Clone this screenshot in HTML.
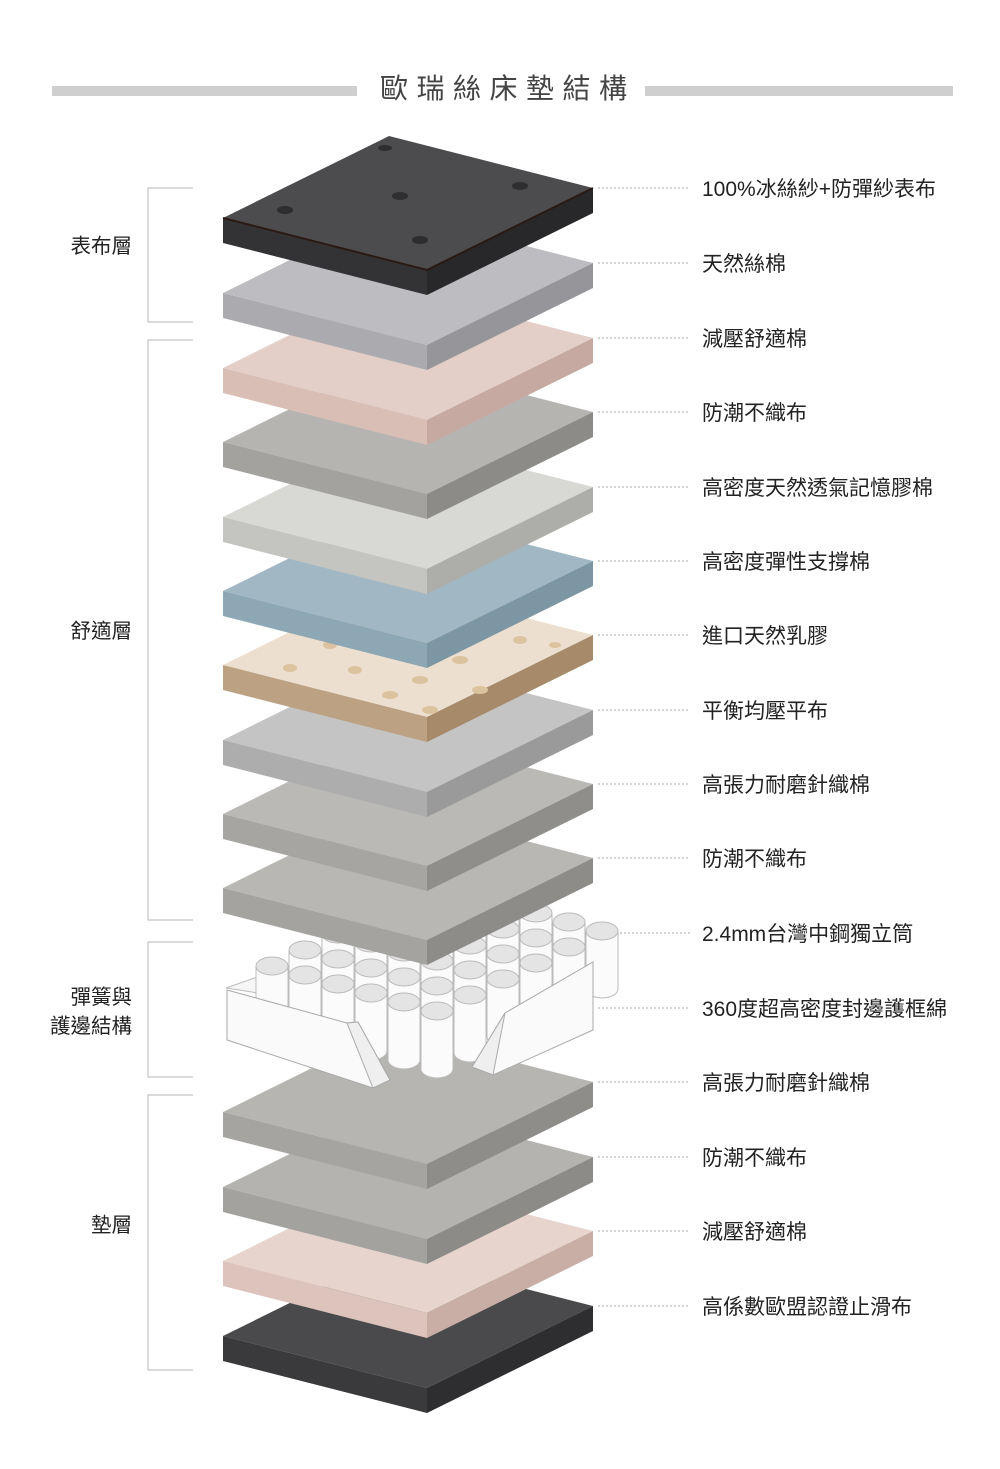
<!DOCTYPE html>
<html><head><meta charset="utf-8"><style>
html,body{margin:0;padding:0;background:#fff;}
body{width:1000px;height:1469px;overflow:hidden;position:relative;font-family:"Liberation Sans","Noto Sans CJK TC",sans-serif;}
.t{position:absolute;left:702px;font-size:21px;color:#222;line-height:24px;white-space:nowrap;}
.g{position:absolute;right:868px;font-size:20.5px;color:#222;line-height:29px;text-align:right;white-space:nowrap;}
</style></head><body>
<svg width="1000" height="1469" style="position:absolute;left:0;top:0">
<rect x="52" y="86" width="305" height="10" fill="#cfcfcf"/>
<rect x="645" y="86" width="308" height="10" fill="#cfcfcf"/>
<g stroke="#c4c4c4" stroke-width="1.2" fill="none">
<path d="M193 188H148V322H193"/>
<path d="M193 340H148V920H193"/>
<path d="M193 942H148V1077H193"/>
<path d="M193 1095H148V1370H193"/>
</g>
<g stroke="#aaa" stroke-width="1" stroke-dasharray="2,2">
<line x1="598" y1="188" x2="690" y2="188"/><line x1="598" y1="263" x2="690" y2="263"/>
<line x1="598" y1="338" x2="690" y2="338"/><line x1="598" y1="412" x2="690" y2="412"/>
<line x1="598" y1="487" x2="690" y2="487"/><line x1="598" y1="561" x2="690" y2="561"/>
<line x1="598" y1="635" x2="690" y2="635"/><line x1="598" y1="710" x2="690" y2="710"/>
<line x1="598" y1="784" x2="690" y2="784"/><line x1="598" y1="858" x2="690" y2="858"/>
<line x1="580" y1="933" x2="690" y2="933"/><line x1="598" y1="1008" x2="690" y2="1008"/>
<line x1="598" y1="1082" x2="690" y2="1082"/><line x1="598" y1="1157" x2="690" y2="1157"/>
<line x1="598" y1="1231" x2="690" y2="1231"/><line x1="598" y1="1306" x2="690" y2="1306"/>
</g>
<g transform="translate(0,1306)"><polygon points="389,-52 593,0 427,82 223,30" fill="#4a4a4c"/><polygon points="223,30 427,82 427,107 223,55" fill="#3a3a3c"/><polygon points="427,82 593,0 593,25 427,107" fill="#2e2e30"/></g>
<g transform="translate(0,1231)"><polygon points="389,-52 593,0 427,82 223,30" fill="#e6d4cd"/><polygon points="223,30 427,82 427,107 223,55" fill="#dcc3bb"/><polygon points="427,82 593,0 593,25 427,107" fill="#c9aea6"/></g>
<g transform="translate(0,1157)"><polygon points="389,-52 593,0 427,82 223,30" fill="#b4b3b0"/><polygon points="223,30 427,82 427,107 223,55" fill="#a3a29f"/><polygon points="427,82 593,0 593,25 427,107" fill="#8c8b88"/></g>
<g transform="translate(0,1082)"><polygon points="389,-52 593,0 427,82 223,30" fill="#b6b5b2"/><polygon points="223,30 427,82 427,107 223,55" fill="#a5a4a1"/><polygon points="427,82 593,0 593,25 427,107" fill="#8e8d8a"/></g>
<polygon points="226,988 390,930 593,962 430,1020" fill="#f6f6f6" stroke="#bbb"/>
<g id="springs" stroke="#bbb" stroke-width="1"></g>
<polygon points="227,990 347,1023 358,1022 390,1080 373,1088 227,1040" fill="#fafafa" stroke="#aaa"/>
<polygon points="347,1023 358,1022 390,1080 373,1088" fill="#efefef" stroke="#aaa"/>
<polygon points="593,962 593,1030 493,1075 472,1067 505,1013" fill="#fafafa" stroke="#aaa"/>
<polygon points="472,1067 505,1013 493,1075" fill="#efefef" stroke="#aaa"/>
<g transform="translate(0,858)"><polygon points="389,-52 593,0 427,82 223,30" fill="#b8b7b4"/><polygon points="223,30 427,82 427,107 223,55" fill="#a4a3a0"/><polygon points="427,82 593,0 593,25 427,107" fill="#8d8c89"/></g>
<g transform="translate(0,784)"><polygon points="389,-52 593,0 427,82 223,30" fill="#bab9b6"/><polygon points="223,30 427,82 427,107 223,55" fill="#a6a5a2"/><polygon points="427,82 593,0 593,25 427,107" fill="#8f8e8b"/></g>
<g transform="translate(0,710)"><polygon points="389,-52 593,0 427,82 223,30" fill="#c4c4c4"/><polygon points="223,30 427,82 427,107 223,55" fill="#adadad"/><polygon points="427,82 593,0 593,25 427,107" fill="#9a9a9a"/></g>
<g transform="translate(0,635)"><polygon points="389,-52 593,0 427,82 223,30" fill="#eddfcf"/><polygon points="223,30 427,82 427,107 223,55" fill="#bca283"/><polygon points="427,82 593,0 593,25 427,107" fill="#a68a6a"/>
<g fill="#dcc39f"><ellipse cx="290" cy="33" rx="7" ry="4"/><ellipse cx="355" cy="35" rx="7" ry="4"/><ellipse cx="420" cy="45" rx="8" ry="4"/><ellipse cx="330" cy="10" rx="7" ry="4"/><ellipse cx="395" cy="15" rx="7" ry="4"/><ellipse cx="460" cy="25" rx="8" ry="4"/><ellipse cx="480" cy="55" rx="8" ry="4"/><ellipse cx="520" cy="5" rx="7" ry="4"/><ellipse cx="440" cy="-10" rx="7" ry="4"/><ellipse cx="390" cy="60" rx="8" ry="4"/><ellipse cx="555" cy="10" rx="6" ry="3"/><ellipse cx="430" cy="75" rx="8" ry="4"/></g></g>
<g transform="translate(0,561)"><polygon points="389,-52 593,0 427,82 223,30" fill="#a1b8c4"/><polygon points="223,30 427,82 427,107 223,55" fill="#8ea7b4"/><polygon points="427,82 593,0 593,25 427,107" fill="#7c96a3"/></g>
<g transform="translate(0,487)"><polygon points="389,-52 593,0 427,82 223,30" fill="#d8d8d4"/><polygon points="223,30 427,82 427,107 223,55" fill="#c4c4c0"/><polygon points="427,82 593,0 593,25 427,107" fill="#adada9"/></g>
<g transform="translate(0,412)"><polygon points="389,-52 593,0 427,82 223,30" fill="#b5b4b1"/><polygon points="223,30 427,82 427,107 223,55" fill="#a3a29f"/><polygon points="427,82 593,0 593,25 427,107" fill="#8c8b88"/></g>
<g transform="translate(0,338)"><polygon points="389,-52 593,0 427,82 223,30" fill="#e3cfc8"/><polygon points="223,30 427,82 427,107 223,55" fill="#d9beb6"/><polygon points="427,82 593,0 593,25 427,107" fill="#c6aaa2"/></g>
<g transform="translate(0,263)"><polygon points="389,-52 593,0 427,82 223,30" fill="#bdbdc1"/><polygon points="223,30 427,82 427,107 223,55" fill="#ababaf"/><polygon points="427,82 593,0 593,25 427,107" fill="#96969a"/></g>
<g transform="translate(0,188)"><polygon points="389,-52 593,0 427,82 223,30" fill="#4c4c4f"/><polygon points="223,30 427,82 427,107 223,55" fill="#333335"/><polygon points="427,82 593,0 593,25 427,107" fill="#28282a"/>
<polyline points="223,30 427,82 593,0" fill="none" stroke="#2a1a14" stroke-width="2"/>
<g fill="#2e2e30"><ellipse cx="285" cy="22" rx="8" ry="4"/><ellipse cx="400" cy="8" rx="8" ry="4"/><ellipse cx="520" cy="-2" rx="8" ry="4"/><ellipse cx="420" cy="52" rx="8" ry="4"/><ellipse cx="385" cy="-40" rx="7" ry="3"/></g></g>
</svg>
<script>
(function(){var g=document.getElementById('springs');var a=[];
for(var i=0;i<6;i++)for(var j=0;j<6;j++){a.push([272+33*i+33*j,966+9*i-16*j]);}
a.sort(function(p,q){return p[1]-q[1];});
var ns='http://www.w3.org/2000/svg';
a.forEach(function(p){var x=p[0],y=p[1];
var r=document.createElementNS(ns,'path');
r.setAttribute('d','M'+(x-16)+' '+y+'V'+(y+58)+'A16 9 0 0 0 '+(x+16)+' '+(y+58)+'V'+y);
r.setAttribute('fill','#fbfbfb');g.appendChild(r);
var e=document.createElementNS(ns,'ellipse');e.setAttribute('cx',x);e.setAttribute('cy',y);e.setAttribute('rx',16);e.setAttribute('ry',9);e.setAttribute('fill','#e4e4e4');g.appendChild(e);});})();
</script>
<div style="position:absolute;left:380px;top:71px;font-size:28px;letter-spacing:8.5px;color:#444;line-height:36px;">歐瑞絲床墊結構</div>
<div class="g" style="top:232px">表布層</div>
<div class="g" style="top:617px">舒適層</div>
<div class="g" style="top:983px">彈簧與<br>護邊結構</div>
<div class="g" style="top:1211px">墊層</div>
<div class="t" style="top:178px">100%冰絲紗+防彈紗表布</div>
<div class="t" style="top:253px">天然絲棉</div>
<div class="t" style="top:328px">減壓舒適棉</div>
<div class="t" style="top:402px">防潮不織布</div>
<div class="t" style="top:477px">高密度天然透氣記憶膠棉</div>
<div class="t" style="top:551px">高密度彈性支撐棉</div>
<div class="t" style="top:625px">進口天然乳膠</div>
<div class="t" style="top:700px">平衡均壓平布</div>
<div class="t" style="top:774px">高張力耐磨針織棉</div>
<div class="t" style="top:848px">防潮不織布</div>
<div class="t" style="top:923px">2.4mm台灣中鋼獨立筒</div>
<div class="t" style="top:998px">360度超高密度封邊護框綿</div>
<div class="t" style="top:1072px">高張力耐磨針織棉</div>
<div class="t" style="top:1147px">防潮不織布</div>
<div class="t" style="top:1221px">減壓舒適棉</div>
<div class="t" style="top:1296px">高係數歐盟認證止滑布</div>
</body></html>
